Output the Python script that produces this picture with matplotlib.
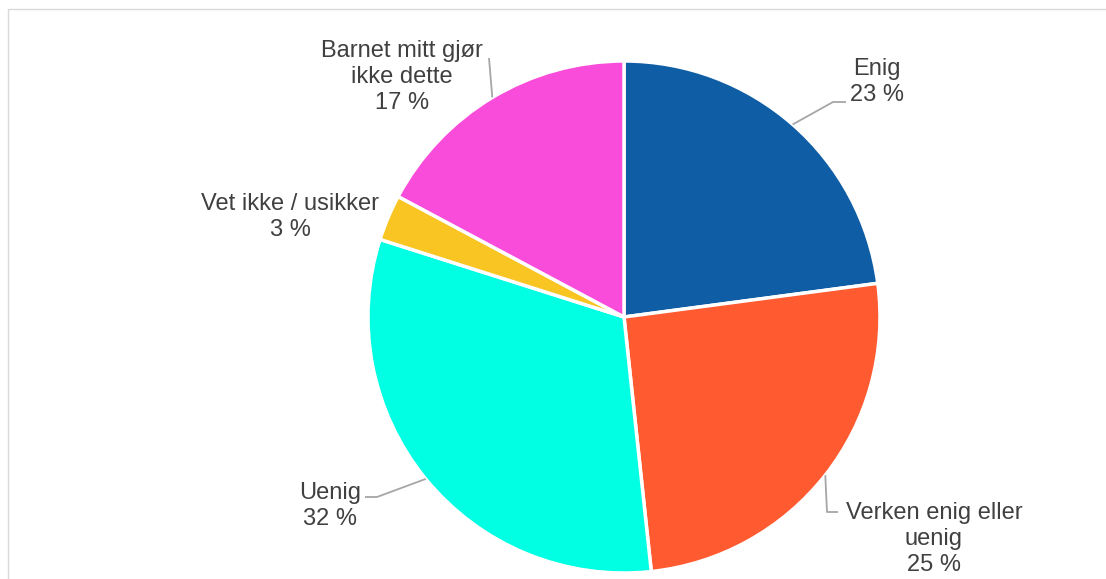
import matplotlib.pyplot as plt
from matplotlib.patches import Rectangle
import numpy as np

plt.rcParams['font.family'] = ['Liberation Sans', 'DejaVu Sans']

kategorier = ["Enig", "Verken enig eller\nuenig", "Uenig", "Vet ikke / usikker", "Barnet mitt gjør\nikke dette"]
andeler = [22.9, 25.4, 31.6, 2.9, 17.2]
prosent_tekst = ["23 %", "25 %", "32 %", "3 %", "17 %"]
farger = ["#0F5EA5", "#FF5A30", "#00FFE3", "#F9C523", "#F94CDB"]

W, H = 1106, 579
fig = plt.figure(figsize=(W / 100, H / 100), dpi=100)
ax = fig.add_axes([0, 0, 1, 1])

cx, cy, r = 624, H - 317, 256
wedges, _ = ax.pie(andeler, colors=farger, startangle=90, counterclock=False,
                   center=(cx, cy), radius=r, frame=True,
                   wedgeprops=dict(edgecolor="white", linewidth=2.5))
ax.set_xlim(0, W)
ax.set_ylim(0, H)
ax.axis("off")

# tekstplassering (x, y i piksler ovenfra)
tekstpos = [(877, 82), (934, 539), (330, 506), (290, 217), (402, 77)]
# knekkpunkt og endepunkt for linjer (None = ingen linje)
linjer = [[(833, 102), (846, 102)],
          [(827, 512), (838, 512)],
          [(377, 497), (365, 497)],
          None,
          [(489, 58)]]

for w, navn, pst, (tx, ty), ln in zip(wedges, kategorier, prosent_tekst, tekstpos, linjer):
    ax.text(tx, H - ty, f"{navn}\n{pst}", ha="center", va="center",
            fontsize=17, color="#404040", linespacing=1.25)
    if ln is None:
        continue
    mid = np.deg2rad((w.theta1 + w.theta2) / 2)
    pts = [(cx + r * np.cos(mid), cy + r * np.sin(mid))] + [(x, H - y) for x, y in ln]
    xs, ys = zip(*pts)
    ax.plot(xs, ys, color="#A6A6A6", lw=1.3, solid_capstyle="butt")

ax.add_patch(Rectangle((7.5, -10), W, H - 8.5 + 10, fill=False,
                       edgecolor="#D9D9D9", lw=1, clip_on=False))

fig.savefig("out.png", dpi=100)
